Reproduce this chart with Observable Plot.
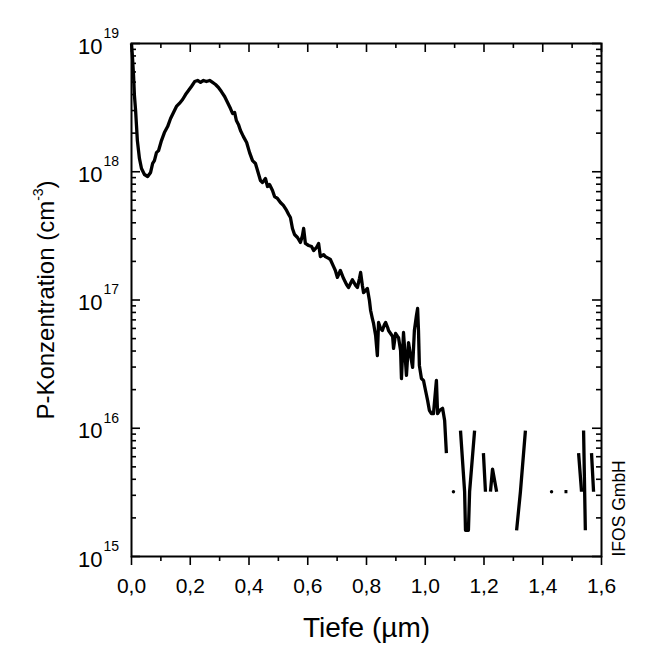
<!DOCTYPE html>
<html>
<head>
<meta charset="utf-8">
<script src="https://cdn.jsdelivr.net/npm/d3@7"></script>
<script src="https://cdn.jsdelivr.net/npm/@observablehq/plot@0.6"></script>
<style>
  html, body { margin: 0; padding: 0; background: #fff; }
  #chart { width: 650px; height: 650px; }
</style>
</head>
<body>
<div id="chart"></div>
<script>
// ---- Data ----
const depth = [
  0.000, 0.003, 0.007, 0.010, 0.014, 0.017, 0.020, 0.027, 0.034, 0.044,
  0.055, 0.065, 0.072, 0.078, 0.085, 0.092, 0.102, 0.112, 0.123, 0.133,
  0.143, 0.153, 0.163, 0.174, 0.184, 0.194, 0.204, 0.215, 0.225, 0.235,
  0.245, 0.255, 0.266, 0.276, 0.286, 0.296, 0.306, 0.317, 0.327, 0.337,
  0.344, 0.351, 0.357, 0.364, 0.371, 0.381, 0.392, 0.402, 0.412, 0.422,
  0.432, 0.439, 0.446, 0.456, 0.463, 0.470, 0.480, 0.487, 0.497, 0.507,
  0.517, 0.528, 0.535, 0.541, 0.548, 0.555, 0.565, 0.575, 0.582, 0.586,
  0.592, 0.603, 0.613, 0.620, 0.630, 0.637, 0.643, 0.654, 0.660, 0.671,
  0.677, 0.688, 0.694, 0.701, 0.711, 0.722, 0.732, 0.739, 0.746, 0.752,
  0.763, 0.769, 0.776, 0.780, 0.786, 0.790, 0.797, 0.803, 0.810, 0.814,
  0.820, 0.824, 0.831, 0.837, 0.841, 0.848, 0.854, 0.861, 0.865, 0.872,
  0.875, 0.882, 0.889, 0.892, 0.899, 0.906, 0.909, 0.916, 0.919, 0.926,
  0.929, 0.936, 0.943, 0.950, 0.957, 0.963, 0.970, 0.974, 0.977, 0.980,
  0.987, 0.994, 1.001, 1.008, 1.014, 1.021, 1.028, 1.032, 1.038, 1.042,
  1.049, 1.059, 1.066, 1.072,
  null,
  1.120, 1.134, 1.137, 1.147, 1.151, 1.168,
  null,
  1.198, 1.205,
  null,
  1.222, 1.229, 1.243,
  null,
  1.311, 1.324, 1.341,
  null,
  1.474, 1.484,
  null,
  1.522, 1.532,
  null,
  1.539, 1.545,
  null,
  1.566, 1.573
];
const conc = [
  1.00e19, 8.06e18, 5.63e18, 3.93e18, 3.00e18, 2.29e18, 1.75e18, 1.27e18, 1.06e18, 9.52e17,
  9.18e17, 9.87e17, 1.16e18, 1.22e18, 1.41e18, 1.46e18, 1.75e18, 2.02e18, 2.25e18, 2.60e18,
  2.90e18, 3.23e18, 3.41e18, 3.66e18, 4.00e18, 4.30e18, 4.62e18, 5.05e18, 5.15e18, 4.97e18,
  5.15e18, 5.05e18, 5.15e18, 4.97e18, 4.79e18, 4.54e18, 4.22e18, 3.86e18, 3.47e18, 3.11e18,
  2.85e18, 2.90e18, 2.51e18, 2.34e18, 2.10e18, 1.88e18, 1.69e18, 1.41e18, 1.22e18, 1.16e18,
  9.69e17, 8.55e17, 8.25e17, 8.86e17, 7.67e17, 7.95e17, 7.14e17, 6.41e17, 6.19e17, 5.76e17,
  5.46e17, 4.99e17, 4.64e17, 4.40e17, 3.61e17, 3.24e17, 3.07e17, 2.81e17, 3.18e17, 3.61e17,
  2.76e17, 2.66e17, 2.61e17, 2.43e17, 2.57e17, 2.76e17, 2.18e17, 2.26e17, 2.18e17, 2.11e17,
  2.07e17, 1.82e17, 1.70e17, 1.50e17, 1.70e17, 1.47e17, 1.32e17, 1.25e17, 1.35e17, 1.44e17,
  1.30e17, 1.25e17, 1.47e17, 1.64e17, 1.30e17, 1.14e17, 1.19e17, 1.23e17, 9.91e16, 8.28e16,
  7.17e16, 6.56e16, 5.29e16, 3.69e16, 6.68e16, 6.00e16, 5.78e16, 6.44e16, 6.68e16, 6.10e16,
  5.78e16, 5.48e16, 5.19e16, 4.19e16, 5.48e16, 5.19e16, 5.10e16, 4.04e16, 2.44e16, 5.58e16,
  4.42e16, 2.58e16, 4.66e16, 3.69e16, 2.98e16, 5.78e16, 7.57e16, 8.59e16, 5.78e16, 3.09e16,
  2.44e16, 2.36e16, 1.97e16, 1.65e16, 1.38e16, 1.30e16, 1.30e16, 1.65e16, 2.36e16, 1.30e16,
  1.38e16, 1.43e16, 1.15e16, 6.4e15,
  null,
  9.6e15, 3.2e15, 1.6e15, 1.6e15, 3.2e15, 9.6e15,
  null,
  6.4e15, 3.2e15,
  null,
  3.2e15, 4.8e15, 3.2e15,
  null,
  1.6e15, 3.2e15, 9.6e15,
  null,
  3.2e15, 3.2e15,
  null,
  6.4e15, 3.2e15,
  null,
  9.6e15, 1.6e15,
  null,
  6.4e15, 3.2e15
];
// single isolated measurements
const dotDepth = [1.096, 1.430];
const dotConc = [3.2e15, 3.2e15];

const xMajor = [0, 0.2, 0.4, 0.6, 0.8, 1.0, 1.2, 1.4, 1.6];
const xMinor = [0.1, 0.3, 0.5, 0.7, 0.9, 1.1, 1.3, 1.5];
const yDecades = [1e15, 1e16, 1e17, 1e18, 1e19];
const yMinorMult = [2, 3, 4, 5, 6, 7, 8, 9];
const xTitle = "Tiefe (µm)";
const yTitleMain = "P-Konzentration (cm";
const yTitleSup = "-3";
const credit = "IFOS GmbH";

// ---- Build ----
const W = 650, H = 650, ML = 131, MR = 49, MT = 43, MB = 94;
const PW = W - ML - MR, PH = H - MT - MB;
const rows = depth.map((d, i) => ({depth: d, conc: conc[i]}));
const dots = dotDepth.map((d, i) => ({depth: d, conc: dotConc[i]}));
const yMinor = [];
for (const dec of yDecades.slice(0, -1)) for (const m of yMinorMult) yMinor.push(dec * m);
const fmtX = d => d.toFixed(1).replace(".", ",");
const FONT = "'Liberation Sans', Arial, Helvetica, sans-serif";
const TW = 1.6;

const plot = Plot.plot({
  width: W,
  height: H,
  marginLeft: ML,
  marginRight: MR,
  marginTop: MT,
  marginBottom: MB,
  style: {fontFamily: FONT, background: "#fff", color: "#000", overflow: "visible"},
  x: {domain: [0, 1.6], axis: null},
  y: {type: "log", domain: [1e15, 1e19], axis: null},
  marks: [
    // bottom axis (outward ticks)
    Plot.axisX({anchor: "bottom", ticks: xMajor, tickSize: 9, strokeWidth: TW, tickFormat: () => "", label: null}),
    Plot.axisX({anchor: "bottom", ticks: xMinor, tickSize: 5, strokeWidth: TW, tickFormat: () => "", label: null}),
    // top axis (inward ticks)
    Plot.ruleX(xMajor, {x: d => d, insetBottom: PH - 9, stroke: "#000", strokeWidth: TW}),
    Plot.ruleX(xMinor, {x: d => d, insetBottom: PH - 5, stroke: "#000", strokeWidth: TW}),
    // left axis (inward ticks)
    Plot.ruleY(yDecades, {y: d => d, insetRight: PW - 9, stroke: "#000", strokeWidth: TW}),
    Plot.ruleY(yMinor, {y: d => d, insetRight: PW - 5, stroke: "#000", strokeWidth: TW}),
    // right axis (inward ticks)
    Plot.ruleY(yDecades, {y: d => d, insetLeft: PW - 9, stroke: "#000", strokeWidth: TW}),
    Plot.ruleY(yMinor, {y: d => d, insetLeft: PW - 5, stroke: "#000", strokeWidth: TW}),
    Plot.frame({stroke: "#000", strokeWidth: 2}),
    // x tick labels
    Plot.text(xMajor, {x: d => d, frameAnchor: "bottom", dy: 30, text: fmtX, fontSize: 21, lineAnchor: "middle", fill: "#000"}),
    // y tick labels 10^n
    Plot.text(yDecades, {y: d => d, frameAnchor: "left", dx: -29, dy: 3, text: () => "10", fontSize: 22, textAnchor: "end", lineAnchor: "middle", fill: "#000"}),
    Plot.text(yDecades, {y: d => d, frameAnchor: "left", dx: -28, dy: -10, text: d => String(Math.round(Math.log10(d))), fontSize: 14, textAnchor: "start", lineAnchor: "middle", fill: "#000"}),
    // x title
    Plot.text([xTitle], {x: () => 0.8, frameAnchor: "bottom", dy: 72, text: d => d, fontSize: 28, lineAnchor: "middle", fill: "#000"}),
    // credit
    Plot.text([credit], {frameAnchor: "bottom-right", dx: 18, dy: 0, rotate: -90, text: d => d, fontSize: 17.5, textAnchor: "start", lineAnchor: "middle", fill: "#000"}),
    // data
    Plot.line(rows, {x: "depth", y: "conc", stroke: "#000", strokeWidth: 3.3, strokeLinejoin: "round", strokeLinecap: "butt"}),
    Plot.dot(dots, {x: "depth", y: "conc", r: 1.7, fill: "#000", stroke: "none"})
  ]
});

// y-axis title with superscript
const svg = d3.select(plot);
const t = svg.append("text")
  .attr("transform", "translate(48,300) rotate(-90)")
  .attr("text-anchor", "middle")
  .attr("dominant-baseline", "middle")
  .attr("font-family", FONT)
  .attr("font-size", 24)
  .attr("fill", "#000");
t.append("tspan").text(yTitleMain);
t.append("tspan").attr("font-size", 14).attr("dy", -9).text(yTitleSup);
t.append("tspan").attr("dy", 9).text(")");

document.getElementById("chart").appendChild(plot);
</script>
</body>
</html>
